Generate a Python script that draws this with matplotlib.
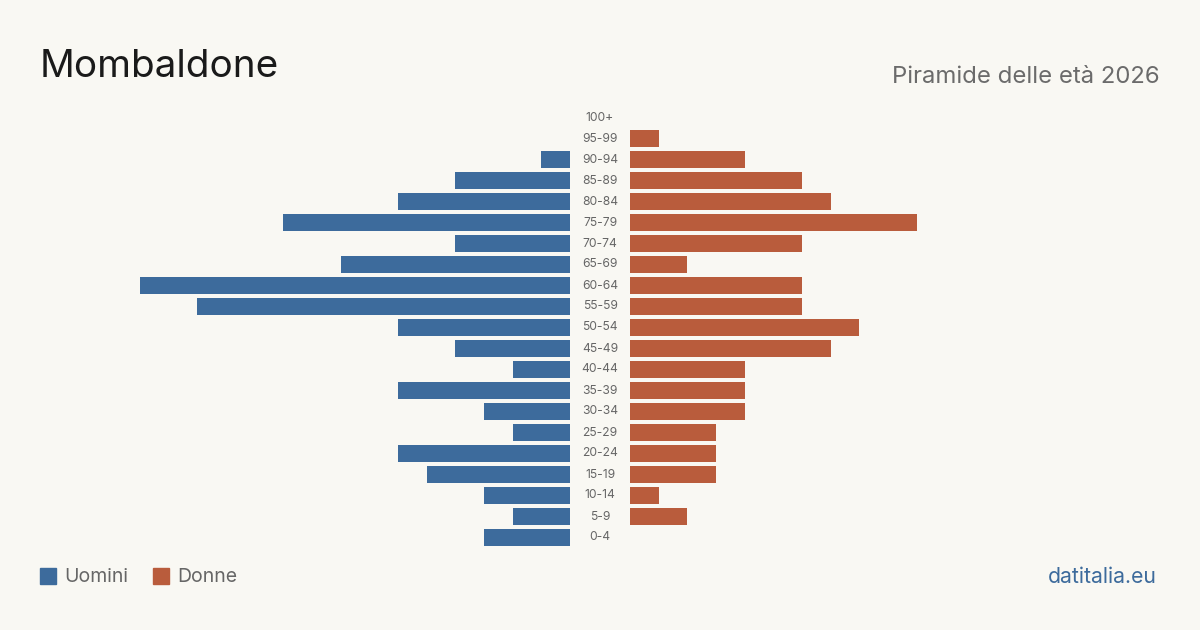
import numpy as np
import matplotlib
matplotlib.use("Agg")
from matplotlib import pyplot as plt
from matplotlib.patches import Rectangle

plt.rcParams['font.family'] = ['Inter', 'DejaVu Sans']

# classi di età, dal basso verso l'alto
eta = ["0-4", "5-9", "10-14", "15-19", "20-24", "25-29", "30-34", "35-39",
       "40-44", "45-49", "50-54", "55-59", "60-64", "65-69", "70-74", "75-79",
       "80-84", "85-89", "90-94", "95-99", "100+"]
uomini = [3, 2, 3, 5, 6, 2, 3, 6, 2, 4, 6, 13, 15, 8, 4, 10, 6, 4, 1, 0, 0]
donne = [0, 2, 1, 3, 3, 3, 4, 4, 4, 7, 8, 6, 6, 2, 6, 10, 7, 6, 4, 1, 0]

bg = "#f9f8f3"
blu = "#3d6b9c"
arancio = "#b95c3c"

fig = plt.figure(figsize=(12, 6.3), dpi=100, facecolor=bg)
W, H = 1200, 630
bottom = (H - 548) / H
height = 441 / H
axl = fig.add_axes([140 / W, bottom, 430 / W, height])
axr = fig.add_axes([630 / W, bottom, 430 / W, height])

y = np.arange(len(eta))
axl.barh(y, uomini, height=0.81, color=blu)
axr.barh(y, donne, height=0.81, color=arancio)
axl.set_xlim(15, 0)
axr.set_xlim(0, 15)
for ax in (axl, axr):
    ax.set_ylim(-0.5, len(eta) - 0.5)
    ax.axis("off")

for i, lab in enumerate(eta):
    fy = bottom + (i + 0.5) / len(eta) * height
    fig.text(600 / W, fy, lab, ha="center", va="center", fontsize=8.7, color="#666666")

fig.text(40 / W, 1 - 67 / H, "Mombaldone", fontsize=27.8, color="#1a1a1a", va="center")
fig.text(1160 / W, 1 - 77 / H, "Piramide delle età 2026", fontsize=17.2, color="#6b6b6b",
         ha="right", va="center")

# legenda
fig.patches.append(Rectangle((40 / W, 1 - 584 / H), 16 / W, 16 / H, transform=fig.transFigure,
                             color=blu))
fig.text(64 / W, 1 - 577 / H, "Uomini", fontsize=14, color="#666666", va="center")
fig.patches.append(Rectangle((153 / W, 1 - 584 / H), 16 / W, 16 / H, transform=fig.transFigure,
                             color=arancio))
fig.text(177 / W, 1 - 577 / H, "Donne", fontsize=14, color="#666666", va="center")

fig.text(1157 / W, 1 - 577 / H, "datitalia.eu", fontsize=15.3, color=blu, ha="right", va="center")

fig.savefig("out.png", dpi=100, facecolor=bg)
